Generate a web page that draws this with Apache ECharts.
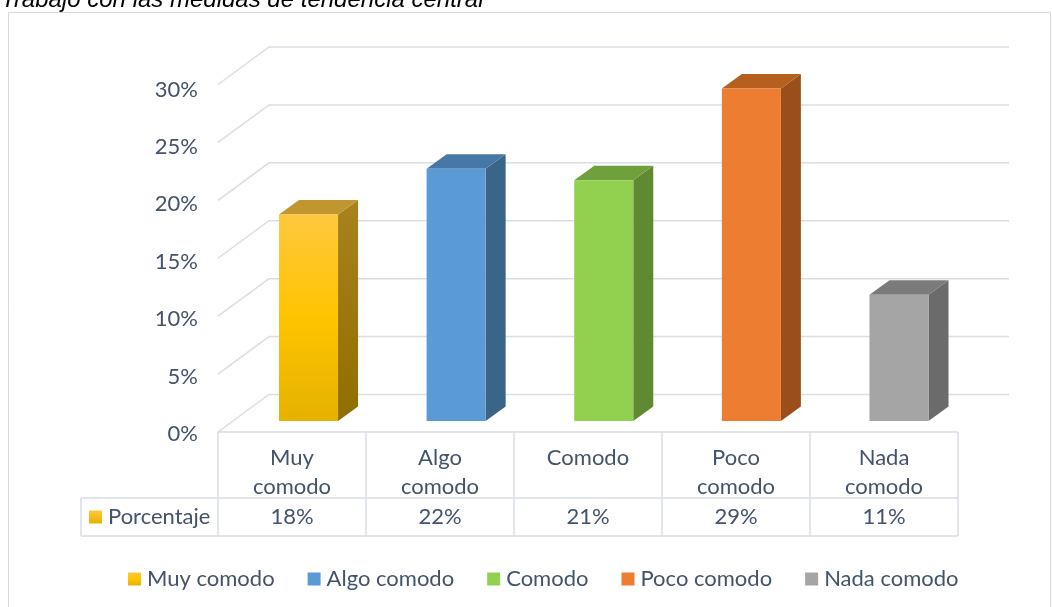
<!DOCTYPE html>
<html>
<head>
<meta charset="utf-8">
<script src="https://cdn.jsdelivr.net/npm/echarts@6/dist/echarts.min.js"></script>
<style>
  html, body { margin: 0; padding: 0; background: #ffffff; }
  #chart { width: 1052px; height: 607px; }
</style>
</head>
<body>
<div id="chart"></div>
<script>
// Comfort ratings and their share of answers (percent)
const categories = ['Muy comodo', 'Algo comodo', 'Comodo', 'Poco comodo', 'Nada comodo'];
const values = [18, 22, 21, 29, 11];
const seriesName = 'Porcentaje';
// Value-axis ticks (percent)
const yTicks = [0, 5, 10, 15, 20, 25, 30];
const titleText = 'Trabajo con las medidas de tendencia central';

const TEXT = '#43536a';
const GRID_LINE = '#d9dde4';
const FONT = 'Lato';
const FS = 22;

// Face colours per bar: front, side, top
const gold = new echarts.graphic.LinearGradient(0, 0, 0, 1, [
  { offset: 0, color: '#ffc83e' }, { offset: 0.5, color: '#ffc400' }, { offset: 1, color: '#e5b200' }
]);
const goldSide = new echarts.graphic.LinearGradient(0, 0, 0, 1, [
  { offset: 0, color: '#a8821e' }, { offset: 1, color: '#8f6f00' }
]);
const faces = [
  { front: gold, side: goldSide, top: '#c0962f' },
  { front: '#5b9bd5', side: '#3a6589', top: '#4677a6' },
  { front: '#92d050', side: '#5f8a32', top: '#6fa03b' },
  { front: '#ed7d31', side: '#9a4e1c', top: '#b6601f' },
  { front: '#a5a5a5', side: '#6b6b6b', top: '#7b7b7b' }
];

// Projection of the depth direction (front plane -> back wall) and bar depth
const WALL_DEPTH = [51, -37.5];
const BAR_DEPTH = [20, -14.5];
const BAR_FRAC = 0.4;

const chart = echarts.init(document.getElementById('chart'), null, { renderer: 'canvas' });

// Back wall gridlines plus the left-wall diagonals, one polyline per tick
function renderWall(params, api) {
  const v = api.value(0);
  const left = api.coord([0, v]);
  const right = api.coord([categories.length, v]);
  const bl = [left[0] + WALL_DEPTH[0], left[1] + WALL_DEPTH[1]];
  const br = [right[0] + WALL_DEPTH[0], right[1] + WALL_DEPTH[1]];
  return {
    type: 'polyline',
    shape: { points: [left, bl, br] },
    style: { stroke: GRID_LINE, lineWidth: 1.5, fill: null }
  };
}

// Data table under the floor: category row and value row
const ROW1 = 66, ROW2 = 38;
function renderTable(params, api) {
  const i = api.value(0);
  const v = api.value(1);
  const p0 = api.coord([i, 0]);
  const p1 = api.coord([i + 1, 0]);
  const x0 = p0[0], x1 = p1[0], y0 = p0[1];
  const yMid = y0 + ROW1, yBot = y0 + ROW1 + ROW2;
  const line = (a, b) => ({
    type: 'line', shape: { x1: a[0], y1: a[1], x2: b[0], y2: b[1] },
    style: { stroke: GRID_LINE, lineWidth: 1.5 }
  });
  const children = [
    line([x0, y0], [x1, y0]),
    line([x0, yMid], [x1, yMid]),
    line([x0, yBot], [x1, yBot]),
    line([x0, y0], [x0, yBot]),
    {
      type: 'text',
      style: {
        x: (x0 + x1) / 2, y: y0 + 11,
        text: categories[i].replace(' ', '\n'),
        align: 'center', verticalAlign: 'top', lineHeight: 29,
        fill: TEXT, font: FS + 'px ' + FONT
      }
    },
    {
      type: 'text',
      style: {
        x: (x0 + x1) / 2, y: (yMid + yBot) / 2,
        text: v + '%', align: 'center', verticalAlign: 'middle',
        fill: TEXT, font: FS + 'px ' + FONT
      }
    }
  ];
  if (i === categories.length - 1) {
    children.push(line([x1, y0], [x1, yBot]));
  }
  if (i === 0) {
    const hx = x0 - 137;
    children.push(line([hx, yMid], [x0, yMid]));
    children.push(line([hx, yBot], [x0, yBot]));
    children.push(line([hx, yMid], [hx, yBot]));
    children.push({
      type: 'rect',
      shape: { x: hx + 8, y: (yMid + yBot) / 2 - 6.5, width: 13, height: 13 },
      style: { fill: new echarts.graphic.LinearGradient(0, 0, 0, 1, [
        { offset: 0, color: '#ffc83e' }, { offset: 1, color: '#e5b200' }]) }
    });
    children.push({
      type: 'text',
      style: {
        x: hx + 27, y: (yMid + yBot) / 2,
        text: seriesName, align: 'left', verticalAlign: 'middle',
        fill: TEXT, font: FS + 'px ' + FONT
      }
    });
  }
  return { type: 'group', children };
}

// 3D column: front face, right side and top
function makeBarRenderer(k) {
  return function (params, api) {
    const i = api.value(0);
    const v = api.value(1);
    const base = api.coord([i, 0]);
    const top = api.coord([i, v]);
    const w = api.size([1, 0])[0] * BAR_FRAC;
    const x0 = base[0] - w / 2, x1 = base[0] + w / 2;
    const yb = base[1], yt = top[1];
    const dx = BAR_DEPTH[0], dy = BAR_DEPTH[1];
    const f = faces[k];
    return {
      type: 'group',
      children: [
        { type: 'polygon', shape: { points: [[x1, yb], [x1 + dx, yb + dy], [x1 + dx, yt + dy], [x1, yt]] },
          style: { fill: f.side } },
        { type: 'polygon', shape: { points: [[x0, yt], [x1, yt], [x1 + dx, yt + dy], [x0 + dx, yt + dy]] },
          style: { fill: f.top } },
        { type: 'rect', shape: { x: x0, y: yt, width: w, height: yb - yt },
          style: { fill: f.front } }
      ]
    };
  };
}

const yMin = yTicks[0], yMax = yTicks[yTicks.length - 1], yStep = yTicks[1] - yTicks[0];

const barSeries = categories.map((name, k) => ({
  type: 'custom',
  name: name,
  xAxisIndex: 1, yAxisIndex: 1,
  itemStyle: { color: faces[k].front },
  renderItem: makeBarRenderer(k),
  data: [[k, values[k]]],
  z: 5,
  silent: true
}));

chart.setOption({
  animation: false,
  backgroundColor: '#ffffff',
  textStyle: { fontFamily: FONT },
  graphic: [
    {
      type: 'rect', silent: true, z: -10,
      shape: { x: 8.5, y: 12.5, width: 1042, height: 640 },
      style: { fill: '#ffffff', stroke: '#d9d9d9', lineWidth: 1 }
    },
    {
      type: 'text', z: 10,
      style: {
        x: 1, y: 0, text: titleText,
        font: 'italic 24px "Liberation Sans", Arial, sans-serif',
        fill: '#000000', verticalAlign: 'middle', align: 'left'
      }
    }
  ],
  grid: [
    { left: 218, right: 94, top: 84.5, bottom: 175 },   // front plane (floor edge, table)
    { left: 234.7, right: 79.2, top: 77, bottom: 186 }, // bar plane
    { left: 218, right: 94, top: 89.5, bottom: 173 }    // value-axis labels
  ],
  xAxis: [
    { gridIndex: 0, type: 'value', min: 0, max: categories.length, show: false },
    { gridIndex: 1, type: 'category', data: categories, show: false },
    { gridIndex: 2, type: 'value', min: 0, max: 1, show: false }
  ],
  yAxis: [
    { gridIndex: 0, type: 'value', min: yMin, max: yMax, interval: yStep, show: false },
    { gridIndex: 1, type: 'value', min: yMin, max: yMax, interval: yStep, show: false },
    {
      gridIndex: 2, type: 'value', min: yMin, max: yMax, interval: yStep,
      axisLine: { show: false }, axisTick: { show: false }, splitLine: { show: false },
      axisLabel: { formatter: '{value}%', color: TEXT, fontSize: FS, fontFamily: FONT, margin: 20 }
    }
  ],
  legend: {
    data: categories,
    left: 123, top: 563,
    itemWidth: 13, itemHeight: 13, itemGap: 33,
    icon: 'rect',
    textStyle: { color: TEXT, fontSize: FS, fontFamily: FONT, padding: [0, 0, 0, 1] },
    selectedMode: false
  },
  series: [
    {
      type: 'custom', name: 'wall', xAxisIndex: 0, yAxisIndex: 0,
      renderItem: renderWall, data: yTicks.map(t => [t]), z: 1, silent: true
    },
    {
      type: 'custom', name: 'table', xAxisIndex: 0, yAxisIndex: 0,
      renderItem: renderTable, data: values.map((v, i) => [i, v]), z: 2, silent: true
    }
  ].concat(barSeries)
});
</script>
</body>
</html>
